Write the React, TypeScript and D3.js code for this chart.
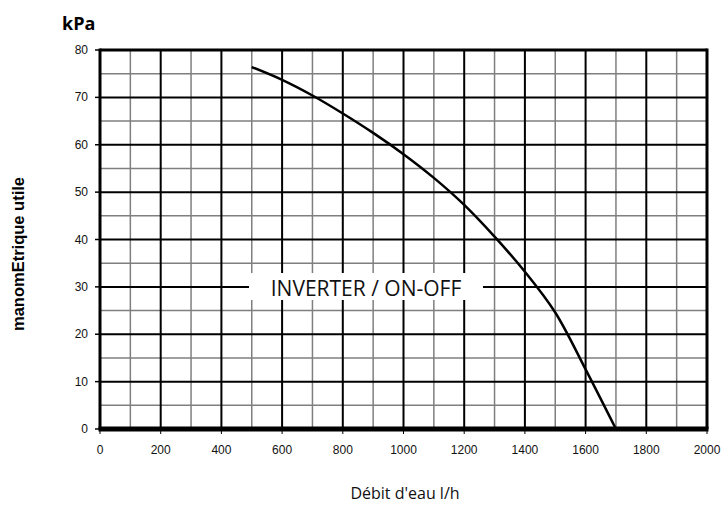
import React from "react";
import * as d3 from "d3";

// Pump curve: available head (kPa) against water flow (l/h)
const flowValues = [500, 600, 700, 800, 900, 1000, 1100, 1200, 1300, 1400, 1500, 1600, 1700];
const headValues = [76.4, 73.7, 70.4, 66.6, 62.5, 58.0, 53.0, 47.3, 40.6, 33.2, 24.6, 12.6, 0];

const xTicks = [0, 200, 400, 600, 800, 1000, 1200, 1400, 1600, 1800, 2000];
const xMinor = [100, 300, 500, 700, 900, 1100, 1300, 1500, 1700, 1900];
const yTicks = [0, 10, 20, 30, 40, 50, 60, 70, 80];
const yMinor = [5, 15, 25, 35, 45, 55, 65, 75];

const curveLabel = "INVERTER / ON-OFF";
const yUnit = "kPa";
const yTitle = "manomEtrique utile";
const xTitle = "Débit d'eau l/h";

const W = 722;
const H = 506;
const left = 100;
const right = 707;
const top = 50;
const bottom = 429;

export default function App() {
  const x = d3.scaleLinear().domain([0, 2000]).range([left, right]);
  const y = d3.scaleLinear().domain([0, 80]).range([bottom, top]);

  const points = flowValues.map((f, i) => [f, headValues[i]] as [number, number]);
  const line = d3
    .line<[number, number]>()
    .x((d) => x(d[0]))
    .y((d) => y(d[1]))
    .curve(d3.curveCatmullRom.alpha(0.5));

  const tickFont = "'Liberation Sans', Arial, sans-serif";

  return (
    <svg
      width={W}
      height={H}
      style={{ position: "absolute", left: 0, top: 0, background: "#fff" }}
    >
      <rect x={0} y={0} width={W} height={H} fill="#fff" />

      {/* minor grid */}
      {xMinor.map((v) => (
        <line key={"xm" + v} x1={x(v)} x2={x(v)} y1={top} y2={bottom} stroke="#7f7f7f" strokeWidth={1.5} />
      ))}
      {yMinor.map((v) => (
        <line key={"ym" + v} x1={left} x2={right} y1={y(v)} y2={y(v)} stroke="#7f7f7f" strokeWidth={1.5} />
      ))}

      {/* major grid */}
      {xTicks.map((v) => (
        <line key={"xg" + v} x1={x(v)} x2={x(v)} y1={top} y2={bottom} stroke="#000" strokeWidth={2} />
      ))}
      {yTicks.map((v) => (
        <line key={"yg" + v} x1={left} x2={right} y1={y(v)} y2={y(v)} stroke="#000" strokeWidth={2} />
      ))}

      {/* frame */}
      <line x1={left} x2={right} y1={top} y2={top} stroke="#000" strokeWidth={3} />
      <line x1={left} x2={left} y1={top - 1.5} y2={bottom} stroke="#000" strokeWidth={3} />
      <line x1={right} x2={right} y1={top - 1.5} y2={bottom} stroke="#000" strokeWidth={3} />
      <line x1={left - 1.5} x2={right + 1.5} y1={bottom} y2={bottom} stroke="#000" strokeWidth={5} />

      {/* tick marks */}
      {yTicks.map((v) => (
        <line key={"yt" + v} x1={left - 5} x2={left} y1={y(v)} y2={y(v)} stroke="#000" strokeWidth={1.5} />
      ))}
      {xTicks.map((v) => (
        <line key={"xt" + v} x1={x(v)} x2={x(v)} y1={bottom} y2={bottom + 5} stroke="#000" strokeWidth={1} />
      ))}

      {/* pump curve */}
      <path d={line(points) ?? ""} fill="none" stroke="#000" strokeWidth={2.5} />

      {/* curve label */}
      <rect x={249} y={273} width={234} height={27} fill="#fff" />
      <text
        x={366}
        y={296}
        textAnchor="middle"
        fontFamily="'Open Sans', sans-serif"
        fontSize={21}
        fill="#111"
      >
        {curveLabel}
      </text>

      {/* tick labels */}
      {yTicks.map((v) => (
        <text
          key={"yl" + v}
          x={88}
          y={y(v) + 4}
          textAnchor="end"
          fontFamily={tickFont}
          fontSize={12}
          fill="#111"
        >
          {v}
        </text>
      ))}
      {xTicks.map((v) => (
        <text
          key={"xl" + v}
          x={x(v)}
          y={454}
          textAnchor="middle"
          fontFamily={tickFont}
          fontSize={12}
          fill="#111"
        >
          {v}
        </text>
      ))}

      {/* titles */}
      <text x={62} y={30} fontFamily="'Open Sans', sans-serif" fontWeight="bold" fontSize={18} fill="#000">
        {yUnit}
      </text>
      <text
        transform={`translate(24,254) rotate(-90)`}
        textAnchor="middle"
        fontFamily={tickFont}
        fontWeight="bold"
        fontSize={16.5}
        fill="#000"
      >
        {yTitle}
      </text>
      <text
        x={405}
        y={499}
        textAnchor="middle"
        fontFamily="'Open Sans', sans-serif"
        fontSize={16}
        fill="#111"
      >
        {xTitle}
      </text>
    </svg>
  );
}
